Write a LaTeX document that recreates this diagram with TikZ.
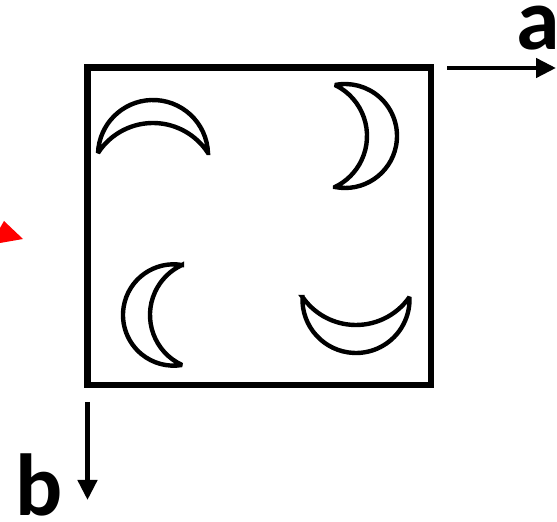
\documentclass[tikz,border=0pt]{standalone}
\usepackage{fontspec}
\setmainfont{Carlito}
\usetikzlibrary{arrows.meta}
\newcommand\mycrescent[6]{%
  \pgfmathsetmacro\crR{(#4*#4+#5*#5)/(2*#5)}%
  \pgfmathsetmacro\crA{atan2(\crR-#5,#4)}%
  \pgfmathsetmacro\crr{(#4*#4+#6*#6)/(2*#6)}%
  \pgfmathsetmacro\crB{atan2(\crr-#6,#4)}%
  \draw[crescent, shift={(#1,#2)}, rotate=#3]
    (#4,0) arc[start angle=\crA, end angle=180-\crA, radius=\crR pt]
    arc[start angle=180-\crB, end angle=\crB, radius=\crr pt] -- cycle;
}
\tikzset{
  crescent/.style={draw=black, line width=4.4pt, line join=miter, miter limit=3},
  box/.style={draw=black, line width=6.5pt, line join=miter},
  axis/.style={draw=black, line width=4.5pt, -{Triangle[length=20pt,width=19pt]}},
  lab/.style={font=\bfseries\fontsize{88}{88}\selectfont, inner sep=0pt, anchor=base},
}
\begin{document}
\begin{tikzpicture}[x=1pt,y=1pt]
\useasboundingbox (0,0) rectangle (557,522);
% frame
\node[box, rectangle, minimum width=343.5pt, minimum height=317.5pt, inner sep=0pt] (sq) at (259.25,295.75) {};
% crescents
\mycrescent{153}{369}{0}{55}{53}{30}
\mycrescent{335}{386}{-90}{51}{62}{32}
\mycrescent{182}{207}{90}{50}{59}{32}
\mycrescent{356}{225}{180}{53.5}{56}{28}
% axes
\coordinate (a1) at (447,454);
\coordinate (a2) at (556,454);
\draw[axis] (a1) -- (a2);
\coordinate (b1) at (87.5,120);
\coordinate (b2) at (87.5,22);
\draw[axis] (b1) -- (b2);
\node[lab] (la) at (538,472) {a};
\node[lab] (lb) at (39.5,6) {b};
% red partial arrowhead
\fill[red] (0,294) -- (4,301) -- (23,283) -- (0,279) -- cycle;
\end{tikzpicture}
\end{document}
